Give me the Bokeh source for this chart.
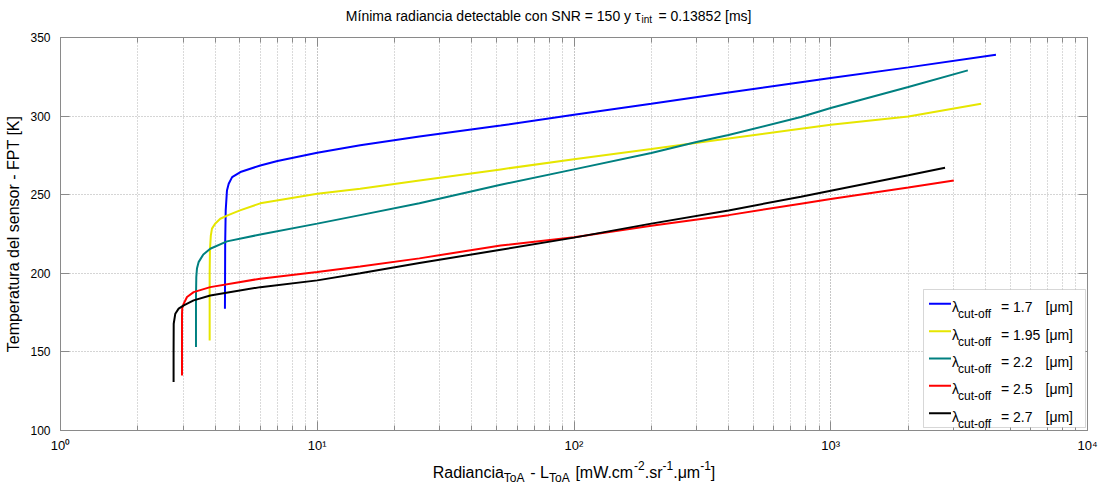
from bokeh.plotting import figure
from bokeh.layouts import column
from bokeh.models import Label, BoxAnnotation, Arrow, LinearAxis, LogAxis, FixedTicker
from bokeh.embed import file_html
from bokeh.resources import INLINE

# ---------------- data ----------------
cutoff_labels = ["1.7", "1.95", "2.2", "2.5", "2.7"]
cutoff_colors = ["#0000ff", "#e6e600", "#008080", "#ff0000", "#000000"]

x_17 = [4.37, 4.38, 4.40, 4.45, 4.52, 4.66, 5.02, 6.0, 7.0, 10, 14.7, 25, 51.8, 100, 200, 400, 765, 1000, 2005, 4400]
y_17 = [177.4, 220, 240, 252.7, 257, 261.2, 264.4, 268.6, 271.4, 276.7, 281.4, 287, 294, 300.9, 307.9, 315, 321.6, 324.2, 331, 339]

x_195 = [3.81, 3.81, 3.82, 3.85, 3.89, 4.0, 4.19, 4.5, 5.0, 6.0, 10, 14.7, 25, 51.8, 100, 200, 400, 765, 1000, 2005, 3852]
y_195 = [157.3, 200, 215, 224, 228.4, 231.5, 234.7, 237, 240, 244.5, 250.6, 253.8, 259, 266.1, 272.5, 279.1, 285.8, 292, 294.5, 299.8, 307.9]

x_22 = [3.37, 3.37, 3.38, 3.40, 3.45, 3.6, 3.83, 4.45, 6.0, 10, 14.7, 25, 51.8, 100, 200, 300, 400, 765, 1000, 2005, 3419]
y_22 = [153.1, 185, 197.6, 203, 207.1, 212, 215.6, 220.3, 224.7, 231.6, 237, 244.5, 256.3, 266.1, 276.5, 283.5, 288, 299.4, 305.1, 318.5, 329.1]

x_25 = [2.974, 2.974, 2.98, 3.02, 3.11, 3.30, 3.83, 6.0, 10, 14.7, 25, 51.8, 100, 200, 400, 765, 1000, 2005, 3015]
y_25 = [135, 174.3, 178, 180.7, 184.9, 188, 191.2, 196.6, 200.8, 204.3, 209.5, 217.7, 223, 230.3, 237, 244.3, 247.3, 254.6, 259.1]

x_27 = [2.757, 2.757, 2.76, 2.80, 2.885, 3.02, 3.30, 3.83, 6.0, 10, 14.7, 25, 51.8, 100, 200, 400, 765, 1000, 2005, 2787]
y_27 = [130.8, 150, 167.9, 174.3, 177.5, 179.6, 182.8, 185.9, 191.2, 195.5, 200, 206.5, 215, 222.7, 231.6, 240, 248.7, 252.5, 262.4, 267.2]

x_ticks = [1, 10, 100, 1000, 10000]
x_tick_labels = ["10⁰", "10¹", "10²", "10³", "10⁴"]
y_ticks = [100, 150, 200, 250, 300, 350]

title_main = "Mínima radiancia detectable con SNR = 150 y τ"
title_sub = "int"
title_tail = "= 0.13852 [ms]"
y_label = "Temperatura del sensor - FPT [K]"
# x label pieces: (text, kind) kind: n=normal, sub, sup
x_label_parts = [("Radiancia", "n"), ("ToA", "sub"), (" - L", "n"), ("ToA", "sub"),
                 (" [mW.cm", "n"), ("-2", "sup"), (".sr", "n"), ("-1", "sup"),
                 (".μm", "n"), ("-1", "sup"), ("]", "n")]

series = [(x_17, y_17), (x_195, y_195), (x_22, y_22), (x_25, y_25), (x_27, y_27)]

# ---------------- layout / styling ----------------
FONT = "Liberation Sans"
AX = "#8a8a8a"
Wd = 1105
ML, MR = 60, 18
TOP_H = 29          # title strip height
MAIN_BT = 8         # top border of the main figure
MAIN_BB = 28        # bottom border of the main figure (holds the x tick labels)
FRAME_H = 393
MAIN_H = FRAME_H + MAIN_BT + MAIN_BB
BOT_H = 484 - TOP_H - MAIN_H
BY = TOP_H + MAIN_H   # page y of the bottom strip's top

ARIAL = {' ': 278, '-': 333, '.': 278, '=': 584, '[': 278, ']': 278, 'R': 722, 'a': 556, 'd': 556,
         'i': 222, 'n': 556, 'c': 500, 'T': 611, 'o': 556, 'A': 667, 'L': 556, 'm': 833, 'W': 944,
         's': 500, 'r': 333, 'μ': 576}
for ch in "0123456789":
    ARIAL[ch] = 556


def text_w(s, size):
    return sum(ARIAL.get(c, 556) for c in s) * size / 1000.0


def add_label(fig, text, x, y, size, align="left"):
    fig.add_layout(Label(x=x, y=y, x_units="canvas", y_units="canvas", text=text,
                         text_font=FONT, text_font_size=size, text_color="black",
                         text_align=align, text_baseline="alphabetic"))


def strip_fig(height):
    f = figure(width=Wd, height=height, min_border=0, output_backend="svg", toolbar_location=None,
               x_axis_location=None, y_axis_location=None, background_fill_color="white",
               border_fill_color="white", x_range=(0, 1), y_range=(0, 1))
    f.outline_line_color = None
    f.grid.visible = False
    return f


# ---------------- main plot ----------------
p = figure(width=Wd, height=MAIN_H, x_axis_type="log", x_range=(1, 1e4), y_range=(100, 350),
           output_backend="svg", toolbar_location=None,
           min_border_left=ML, min_border_right=MR, min_border_top=MAIN_BT, min_border_bottom=MAIN_BB,
           background_fill_color="white", border_fill_color="white")
p.outline_line_color = AX
p.outline_line_width = 1

x_minor = [m * d for d in x_ticks[:-1] for m in range(2, 10)]
xt = FixedTicker(ticks=x_ticks, minor_ticks=x_minor)
yt = FixedTicker(ticks=y_ticks)


def hide_labels(ax):
    ax.major_label_text_font_size = "1px"
    ax.major_label_text_alpha = 0
    ax.major_label_standoff = 0


def style_axis(ax):
    ax.axis_line_color = AX
    ax.major_tick_line_color = AX
    ax.minor_tick_line_color = AX
    ax.major_tick_in = 9
    ax.major_tick_out = 0
    ax.minor_tick_in = 5
    ax.minor_tick_out = 0


for ax in p.xaxis:
    ax.ticker = xt
    style_axis(ax)
    ax.major_label_overrides = dict(zip(x_ticks, x_tick_labels))
    ax.major_label_text_font = FONT
    ax.major_label_text_font_size = "13px"
    ax.major_label_text_color = "black"
    ax.major_label_standoff = 7
p.xgrid.ticker = xt
p.ygrid.ticker = yt
for ax in p.yaxis:
    ax.ticker = yt
    style_axis(ax)
    ax.minor_tick_line_color = None
    ax.major_label_text_font = FONT
    ax.major_label_text_font_size = "12px"
    ax.major_label_text_color = "black"
    ax.major_label_standoff = 10
    ax.axis_label = y_label
    ax.axis_label_text_font = FONT
    ax.axis_label_text_font_size = "16px"
    ax.axis_label_text_font_style = "normal"
    ax.axis_label_text_color = "black"
    ax.axis_label_standoff = 5

top_ax = LogAxis(ticker=xt)
hide_labels(top_ax)
style_axis(top_ax)
p.add_layout(top_ax, "above")
right_ax = LinearAxis(ticker=yt)
hide_labels(right_ax)
style_axis(right_ax)
right_ax.minor_tick_line_color = None
p.add_layout(right_ax, "right")

p.xgrid.grid_line_color = "#8c8c8c"
p.xgrid.grid_line_dash = "1 2"
p.xgrid.minor_grid_line_color = "#b4b4b4"
p.xgrid.minor_grid_line_dash = "1 2"
p.ygrid.grid_line_color = "#ababab"
p.ygrid.grid_line_dash = "1 2"

for (xs, ys), c in zip(series, cutoff_colors):
    p.line(xs, ys, line_color=c, line_width=2)

# legend (canvas px of the main figure = page px minus TOP_H)
LY0 = 289 - TOP_H
p.add_layout(BoxAnnotation(left=923, right=1085, top=LY0, bottom=LY0 + 138,
                           left_units="canvas", right_units="canvas", top_units="canvas",
                           bottom_units="canvas", fill_color="white", fill_alpha=1,
                           line_color="#7a7a7a", line_width=1))
for i, (lbl, c) in enumerate(zip(cutoff_labels, cutoff_colors)):
    yc = LY0 + 14.3 + 27.35 * i
    p.add_layout(Arrow(end=None, x_start=928.5, x_end=950.5, y_start=yc, y_end=yc,
                       start_units="canvas", end_units="canvas", line_color=c, line_width=2))
    add_label(p, "λ", 951.5, yc + 3.5, "14px")
    add_label(p, "cut-off", 957.5, yc + 10.5, "12px")
    add_label(p, "= " + lbl, 1000.5, yc + 3.5, "14px")
    add_label(p, "[μm]", 1045, yc + 3.5, "14px")

# ---------------- title strip ----------------
pt = strip_fig(TOP_H)
add_label(pt, title_main, 640, 15, "14px", "right")
add_label(pt, title_sub, 641, 18.5, "10px")
add_label(pt, title_tail, 658, 15, "14px")

# ---------------- bottom strip: x label ----------------
pb = strip_fig(BOT_H)
FN, FS = 16, 12
widths = [text_w(t, FN if k == "n" else FS) for t, k in x_label_parts]
xpos = (ML + Wd - MR) / 2.0 - sum(widths) / 2.0
for (t, k), w in zip(x_label_parts, widths):
    size = FN if k == "n" else FS
    lead = len(t) - len(t.lstrip(" "))
    yb = {"n": 472, "sub": 477, "sup": 465}[k]
    add_label(pb, t.lstrip(" "), xpos + text_w(" " * lead, size), yb - BY, "%dpx" % size)
    xpos += w

layout = column(pt, p, pb, spacing=0)
open("out.html", "w").write(file_html(layout, INLINE))
